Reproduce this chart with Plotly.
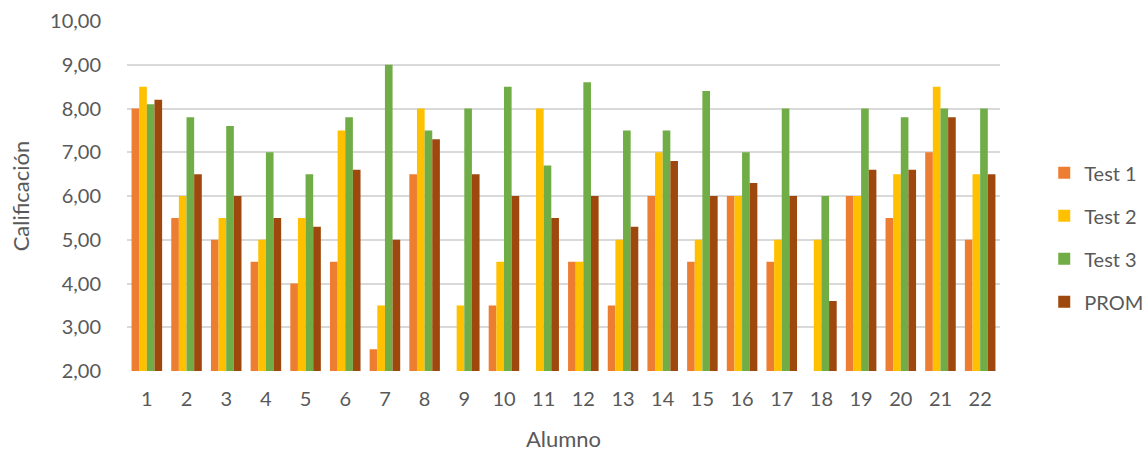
import plotly.graph_objects as go

# Student numbers on the x axis
alumnos = [str(i) for i in range(1, 23)]

# Grades per test and the average (PROM)
test1 = [8.0, 5.5, 5.0, 4.5, 4.0, 4.5, 2.5, 6.5, 2.0, 3.5, 2.0,
         4.5, 3.5, 6.0, 4.5, 6.0, 4.5, 2.0, 6.0, 5.5, 7.0, 5.0]
test2 = [8.5, 6.0, 5.5, 5.0, 5.5, 7.5, 3.5, 8.0, 3.5, 4.5, 8.0,
         4.5, 5.0, 7.0, 5.0, 6.0, 5.0, 5.0, 6.0, 6.5, 8.5, 6.5]
test3 = [8.1, 7.8, 7.6, 7.0, 6.5, 7.8, 9.0, 7.5, 8.0, 8.5, 6.7,
         8.6, 7.5, 7.5, 8.4, 7.0, 8.0, 6.0, 8.0, 7.8, 8.0, 8.0]
prom = [8.2, 6.5, 6.0, 5.5, 5.3, 6.6, 5.0, 7.3, 6.5, 6.0, 5.5,
        6.0, 5.3, 6.8, 6.0, 6.3, 6.0, 3.6, 6.6, 6.6, 7.8, 6.5]

series = [
    ("Test 1", test1, "#ED7D31"),
    ("Test 2", test2, "#FFC000"),
    ("Test 3", test3, "#70AD47"),
    ("PROM", prom, "#9E480E"),
]

fig = go.Figure()
for name, vals, color in series:
    fig.add_trace(go.Bar(
        x=alumnos, y=vals, name=name, legendgroup=name,
        marker=dict(color=color, line=dict(width=0)),
    ))

font_family = "Lato, Open Sans, sans-serif"
grey = "#595959"

fig.update_layout(
    width=1145, height=452,
    margin=dict(l=127, r=145, t=21, b=81, autoexpand=False),
    plot_bgcolor="white", paper_bgcolor="white",
    barmode="group", bargap=0.23, bargroupgap=0.0,
    separators=",.",
    font=dict(family=font_family, color=grey, size=20),
    xaxis=dict(
        title=dict(text="Alumno", font=dict(size=22, color=grey), standoff=22),
        showgrid=False, showline=False, ticks="",
        tickfont=dict(size=20, color=grey),
        ticklabelstandoff=14,
        automargin=False,
    ),
    yaxis=dict(
        title=dict(text="Calificación", font=dict(size=22, color=grey), standoff=14),
        range=[2, 10], dtick=1, tickformat=".2f",
        showgrid=True, gridcolor="#D9D9D9", gridwidth=1.5,
        zeroline=False, showline=False, ticks="",
        tickfont=dict(size=20, color=grey),
        ticklabelstandoff=25,
        automargin=False,
    ),
    legend=dict(
        xref="container", yref="container",
        x=0.912, y=0.475, xanchor="left", yanchor="middle",
        font=dict(size=20, color=grey),
        tracegroupgap=14, itemwidth=30,
    ),
)

fig.write_html("out.html")
